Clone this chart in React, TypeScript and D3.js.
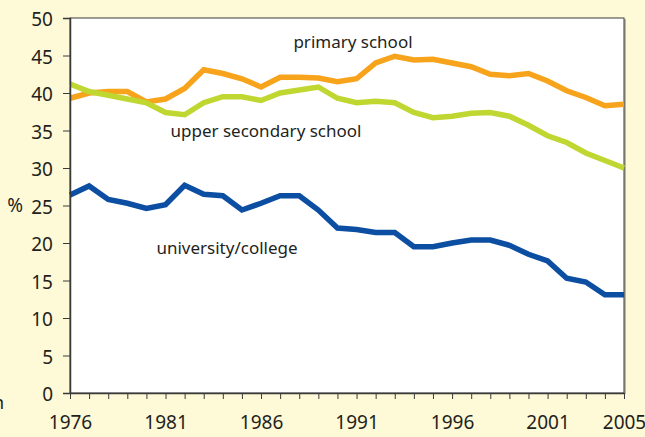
import React from 'react';
import * as d3 from 'd3';

const years = d3.range(1976, 2006);
const primary = [39.3, 40.0, 40.2, 40.2, 38.8, 39.2, 40.6, 43.1, 42.6, 41.9, 40.8, 42.1, 42.1, 42.0, 41.5, 41.9, 44.0, 44.9, 44.4, 44.5, 44.0, 43.5, 42.5, 42.3, 42.6, 41.6, 40.3, 39.4, 38.3, 38.5];
const upperSecondary = [41.2, 40.2, 39.7, 39.2, 38.7, 37.4, 37.1, 38.7, 39.5, 39.5, 39.0, 40.0, 40.4, 40.8, 39.3, 38.7, 38.9, 38.7, 37.4, 36.7, 36.9, 37.3, 37.4, 36.9, 35.7, 34.3, 33.4, 32.0, 31.0, 30.0];
const university = [26.4, 27.6, 25.8, 25.3, 24.6, 25.1, 27.7, 26.5, 26.3, 24.4, 25.3, 26.3, 26.3, 24.4, 22.0, 21.8, 21.4, 21.4, 19.5, 19.5, 20.0, 20.4, 20.4, 19.7, 18.5, 17.6, 15.3, 14.8, 13.1, 13.1];
const xTickLabels = [1976, 1981, 1986, 1991, 1996, 2001, 2005];
const yTicks = [0, 5, 10, 15, 20, 25, 30, 35, 40, 45, 50];

const series = [
  { name: 'primary school', values: primary, color: '#f7a31c', label: [353, 48] },
  { name: 'upper secondary school', values: upperSecondary, color: '#bfd730', label: [266, 137] },
  { name: 'university/college', values: university, color: '#0b4ea2', label: [227, 254] },
];

const App: React.FC = () => {
  const svgRef = React.useRef<SVGSVGElement>(null);

  React.useEffect(() => {
    if (!svgRef.current) return;
    const margin = { top: 18, right: 21, bottom: 44, left: 70 };
    const width = 645 - margin.left - margin.right;
    const height = 437 - margin.top - margin.bottom;
    const font = '"Noto Sans", sans-serif';
    const ink = '#231f20';

    const svg = d3.select(svgRef.current);
    svg.selectAll('*').remove();

    svg.append('rect').attr('width', 645).attr('height', 437).attr('fill', '#fef9d6');

    const g = svg.append('g').attr('transform', `translate(${margin.left},${margin.top})`);

    const x = d3.scaleLinear().domain([1976, 2005]).range([0, width]);
    const y = d3.scaleLinear().domain([0, 50]).range([height, 0]);

    // plot area with a soft shadow on the right
    g.append('rect').attr('x', 2).attr('y', 1).attr('width', width).attr('height', height).attr('fill', '#b9b6a6');
    g.append('rect').attr('width', width).attr('height', height).attr('fill', '#fff')
      .attr('stroke', '#3a3a3a').attr('stroke-width', 1);

    const line = d3.line<number>()
      .x((_, i) => x(years[i]))
      .y(d => y(d));

    series.forEach(s => {
      g.append('path')
        .datum(s.values)
        .attr('d', line)
        .attr('fill', 'none')
        .attr('stroke', s.color)
        .attr('stroke-width', 5.5)
        .attr('stroke-linejoin', 'miter');
      svg.append('text')
        .attr('x', s.label[0])
        .attr('y', s.label[1])
        .attr('text-anchor', 'middle')
        .style('font-family', font)
        .style('font-size', '17px')
        .style('fill', ink)
        .text(s.name);
    });

    // Y axis
    const yAxis = g.append('g')
      .call(d3.axisLeft(y).tickValues(yTicks).tickSize(7).tickPadding(10));
    yAxis.select('.domain').attr('stroke', '#3a3a3a').attr('stroke-width', 1.5);
    yAxis.selectAll('.tick line').attr('stroke', '#3a3a3a');
    yAxis.selectAll('text')
      .attr('dy', '0.4em')
      .style('font-family', font)
      .style('font-size', '19px')
      .style('fill', ink);

    // X axis, minor ticks each year
    const xAxis = g.append('g')
      .attr('transform', `translate(0,${height})`)
      .call(d3.axisBottom(x).tickValues(years).tickSize(6).tickSizeOuter(0).tickPadding(17)
        .tickFormat(d => xTickLabels.includes(+d) ? String(d) : ''));
    xAxis.select('.domain').attr('stroke', '#3a3a3a').attr('stroke-width', 1.5);
    xAxis.selectAll('.tick line').attr('stroke', '#3a3a3a');
    xAxis.selectAll('text')
      .style('font-family', font)
      .style('font-size', '19px')
      .style('fill', ink);

    svg.append('text')
      .attr('x', 23)
      .attr('y', y(25) + margin.top)
      .attr('dy', '0.35em')
      .attr('text-anchor', 'end')
      .style('font-family', font)
      .style('font-size', '19px')
      .style('fill', ink)
      .text('%');

    // clipped remnant of a note at the left edge
    svg.append('text')
      .attr('x', -7)
      .attr('y', 409)
      .style('font-family', font)
      .style('font-size', '18px')
      .style('fill', ink)
      .text('n');
  }, []);

  return (
    <svg ref={svgRef} width={645} height={437} viewBox="0 0 645 437"
      style={{ position: 'absolute', left: 0, top: 0 }} />
  );
};

export default App;
